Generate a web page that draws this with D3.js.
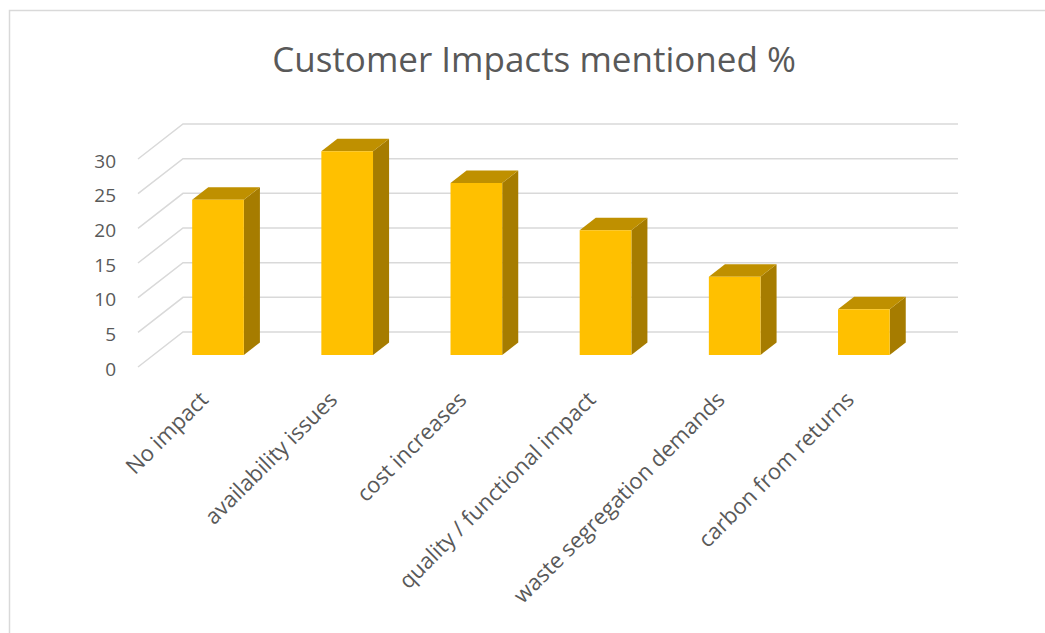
<!DOCTYPE html>
<html>
<head>
	<script src="https://cdnjs.cloudflare.com/ajax/libs/d3/7.8.5/d3.min.js"></script>
	<style>
		html, body {
			padding: 0;
			margin: 0;
			background: #fff;
		}
	</style>
</head>
<body>
	<script>
		var categories = ["No impact", "availability issues", "cost increases",
			"quality / functional impact", "waste segregation demands", "carbon from returns"];
		var values = [22.4, 29.4, 24.8, 18.0, 11.3, 6.6];
		var tickValues = [0, 5, 10, 15, 20, 25, 30];

		var width = 1045, height = 633;
		var font = "'Open Sans', Lato, sans-serif";

		var svg = d3.select("body").append("svg")
			.attr("width", width)
			.attr("height", height);

		// chart border
		svg.append("rect")
			.attr("x", 9.5).attr("y", 10.5)
			.attr("width", width + 20).attr("height", height + 20)
			.attr("fill", "#fff")
			.attr("stroke", "#d9d9d9")
			.attr("stroke-width", 1.5);

		// title
		svg.append("text")
			.attr("x", 534).attr("y", 72)
			.attr("text-anchor", "middle")
			.style("font-family", font)
			.style("font-size", "35px")
			.style("fill", "#595959")
			.text("Customer Impacts mentioned %");

		//////// 3D geometry ////////
		var ox = 138, oy = 367;      // front-left corner of the floor
		var plotW = 775;
		var depthX = 45, depthY = 35; // oblique depth offset of the walls

		var x = d3.scaleBand()
			.domain(categories)
			.range([ox, ox + plotW])
			.paddingInner(0.6)
			.paddingOuter(0.3);

		var y = d3.scaleLinear()
			.domain([0, 30])
			.range([oy, oy - 208]);

		function proj(px, v, z) {
			return [px + z * depthX, y(v) - z * depthY];
		}

		// gridlines: side wall + back wall
		var grid = svg.append("g")
			.attr("stroke", "#d9d9d9")
			.attr("stroke-width", 1.5)
			.attr("fill", "none");

		grid.selectAll("path")
			.data(tickValues)
			.enter().append("path")
			.attr("d", function(v) {
				return d3.line()([proj(ox, v, 0), proj(ox, v, 1), proj(ox + plotW, v, 1)]);
			});

		// y axis labels
		var yAxis = svg.append("g")
			.attr("transform", "translate(116,2)")
			.call(d3.axisLeft(y).tickValues(tickValues).tickSize(0).tickPadding(0));
		yAxis.select(".domain").remove();
		yAxis.selectAll("text")
			.style("font-family", font)
			.style("font-size", "19px")
			.style("fill", "#595959");

		//////// BARS ////////
		var z0 = 0.343, z1 = 0.70;
		var bars = svg.append("g").selectAll("g")
			.data(categories)
			.enter().append("g");

		// side face
		bars.append("path")
			.attr("fill", "#a67c00")
			.attr("d", function(c, i) {
				var x1 = x(c) + x.bandwidth();
				return d3.line()([proj(x1, 0, z0), proj(x1, values[i], z0),
					proj(x1, values[i], z1), proj(x1, 0, z1)]) + "Z";
			});

		// top face
		bars.append("path")
			.attr("fill", "#bf9000")
			.attr("d", function(c, i) {
				var x0 = x(c), x1 = x(c) + x.bandwidth();
				return d3.line()([proj(x0, values[i], z0), proj(x1, values[i], z0),
					proj(x1, values[i], z1), proj(x0, values[i], z1)]) + "Z";
			});

		// front face
		bars.append("path")
			.attr("fill", "#ffc000")
			.attr("d", function(c, i) {
				var x0 = x(c), x1 = x(c) + x.bandwidth();
				return d3.line()([proj(x0, 0, z0), proj(x0, values[i], z0),
					proj(x1, values[i], z0), proj(x1, 0, z0)]) + "Z";
			});

		//////// CATEGORY LABELS ////////
		svg.append("g").selectAll("text")
			.data(categories)
			.enter().append("text")
			.attr("transform", function(c) {
				return "translate(" + (x(c) + x.bandwidth() / 2 + 7) + ",401) rotate(-45)";
			})
			.attr("text-anchor", "end")
			.style("font-family", font)
			.style("font-size", "22px")
			.style("fill", "#595959")
			.text(function(c) { return c; });
	</script>
</body>
</html>
